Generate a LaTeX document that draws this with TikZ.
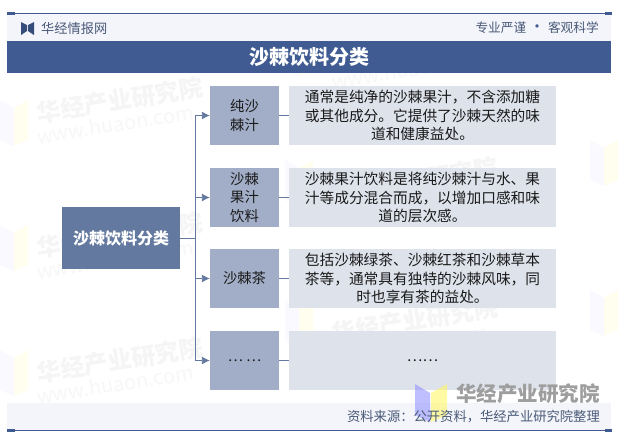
\documentclass[tikz,border=0pt]{standalone}
\usepackage{fontspec}
\setmainfont{Noto Sans CJK SC}
\usetikzlibrary{arrows.meta}
\definecolor{navy}{HTML}{3F5B92}
\definecolor{mainbox}{HTML}{64799F}
\definecolor{midbox}{HTML}{A2AEC7}
\definecolor{lightbox}{HTML}{DEE2EB}
\definecolor{band}{HTML}{F3F5FA}
\definecolor{conn}{HTML}{64799F}
\definecolor{txt}{HTML}{1A1A1A}
\definecolor{grayt}{HTML}{4A5A78}
\tikzset{
  x=1pt,y=-1pt,
  fs/.style={font=\fontsize{#1}{#1}\selectfont},
  catbox/.style={fill=midbox,minimum width=69pt,minimum height=59pt,inner sep=0pt,align=center,text=txt,font=\fontsize{14.3}{18.5}\selectfont},
  descbox/.style={fill=lightbox,minimum width=267pt,minimum height=59pt,inner sep=0pt,align=center,text=txt,font=\fontsize{14.7}{18.4}\selectfont},
  link/.style={draw=conn,line width=0.9pt},
  arrowlink/.style={link,-{Latex[length=8pt,width=8pt]}},
  wm/.style={rotate=9,text=black!4,inner sep=0pt,font=\fontsize{24}{24}\selectfont\bfseries},
  wmurl/.style={rotate=9,text=black!3,inner sep=0pt,fs=20},
}
\begin{document}
\begin{tikzpicture}
\useasboundingbox (0,0) rectangle (621,440);
\fill[white] (0,0) rectangle (621,440);
% faint watermarks
\foreach \wx/\wy in {120/100,120/235,120/360,415/45,415/180,415/320}{
  \node[wm] at (\wx,\wy) {华经产业研究院};
  \node[wmurl] at (\wx-5,\wy+24) {www.huaon.com};
}
\foreach \lx/\ly in {0/100,0/225,0/350,285/30,285/160,285/300,590/140,590/290}{
  \fill[blue!30!white,opacity=.07] (\lx,\ly) -- (\lx+14,\ly+8) -- (\lx+14,\ly+46) -- (\lx,\ly+40) -- cycle;
  \fill[yellow!50!white,opacity=.12] (\lx+14,\ly+8) -- (\lx+28,\ly) -- (\lx+28,\ly+40) -- (\lx+14,\ly+46) -- cycle;
}
% header
\fill[band] (7,14) rectangle (611,41);
\draw[navy,line width=0.8pt] (7,13.5) -- (611,13.5);
\fill[navy] (7,12.2) rectangle (15,14.8);
\fill[navy] (605,12.2) rectangle (612,14.8);
\fill[navy!85!black] (21,22) -- (27,25) -- (27,31) -- (21,35) -- cycle;
\fill[navy!85!black] (34,22) -- (28,25) -- (28,31) -- (34,35) -- cycle;
\node[anchor=west,inner sep=0pt,text=grayt,fs=13.2] (brand) at (41,28.5) {华经情报网};
\node[anchor=east,inner sep=0pt,text=grayt,fs=12.7] (motto) at (599,28) {专业严谨 {\textcolor{navy}{\fontsize{16}{16}\selectfont •}} 客观科学};
% title
\node[fill=navy,minimum width=604pt,minimum height=32pt,inner sep=0pt,text=white,font=\fontsize{20}{20}\selectfont\bfseries] (title) at (309,57) {沙棘饮料分类};
% main
\node[fill=mainbox,minimum width=118pt,minimum height=62pt,inner sep=0pt,text=white,font=\fontsize{16}{16}\selectfont\bfseries] (root) at (121,238) {沙棘饮料分类};
% categories
\node[catbox] (c1) at (244.5,115.5) {纯沙\\棘汁};
\node[catbox] (c2) at (244.5,197.5) {沙棘\\果汁\\饮料};
\node[catbox] (c3) at (244.5,278.5) {沙棘茶};
\node[catbox] (c4) at (244.5,360.5) {… …};
% descriptions
\node[descbox] (d1) at (422.5,115.5) {通常是纯净的沙棘果汁，不含添加糖\\或其他成分。它提供了沙棘天然的味\\道和健康益处。};
\node[descbox] (d2) at (422.5,197.5) {沙棘果汁饮料是将纯沙棘汁与水、果\\汁等成分混合而成，以增加口感和味\\道的层次感。};
\node[descbox] (d3) at (422.5,278.5) {包括沙棘绿茶、沙棘红茶和沙棘草本\\茶等，通常具有独特的沙棘风味，同\\时也享有茶的益处。};
\node[descbox] (d4) at (422.5,360.5) {……};
% connectors
\coordinate (trunk) at (195,238);
\draw[link] (root) -- (trunk);
\draw[arrowlink] (trunk) |- (c1);
\draw[arrowlink] (trunk) |- (c2);
\draw[arrowlink] (trunk) |- (c3);
\draw[arrowlink] (trunk) |- (c4);
\foreach \i in {1,2,3,4}{\draw[link] (c\i) -- (d\i);}
% footer
\fill[band] (7,403) rectangle (611,430);
\draw[navy,line width=0.8pt] (7,430.3) -- (611,430.3);
\fill[navy] (7,429) rectangle (15,431.6);
\fill[navy] (605,429) rectangle (612,431.6);
\fill[blue!45!white,opacity=.55] (415,384) -- (430,393) -- (430,422) -- (415,415) -- cycle;
\fill[yellow!60!white,opacity=.6] (431,393) -- (447,384) -- (447,415) -- (431,422) -- cycle;
\node[anchor=east,inner sep=0pt,text=black!38,font=\fontsize{20.5}{20.5}\selectfont\bfseries] (wmark) at (600,394) {华经产业研究院};
\node[anchor=east,inner sep=0pt,text=grayt,fs=13.3] (source) at (600,417) {资料来源：公开资料，华经产业研究院整理};
\end{tikzpicture}
\end{document}
